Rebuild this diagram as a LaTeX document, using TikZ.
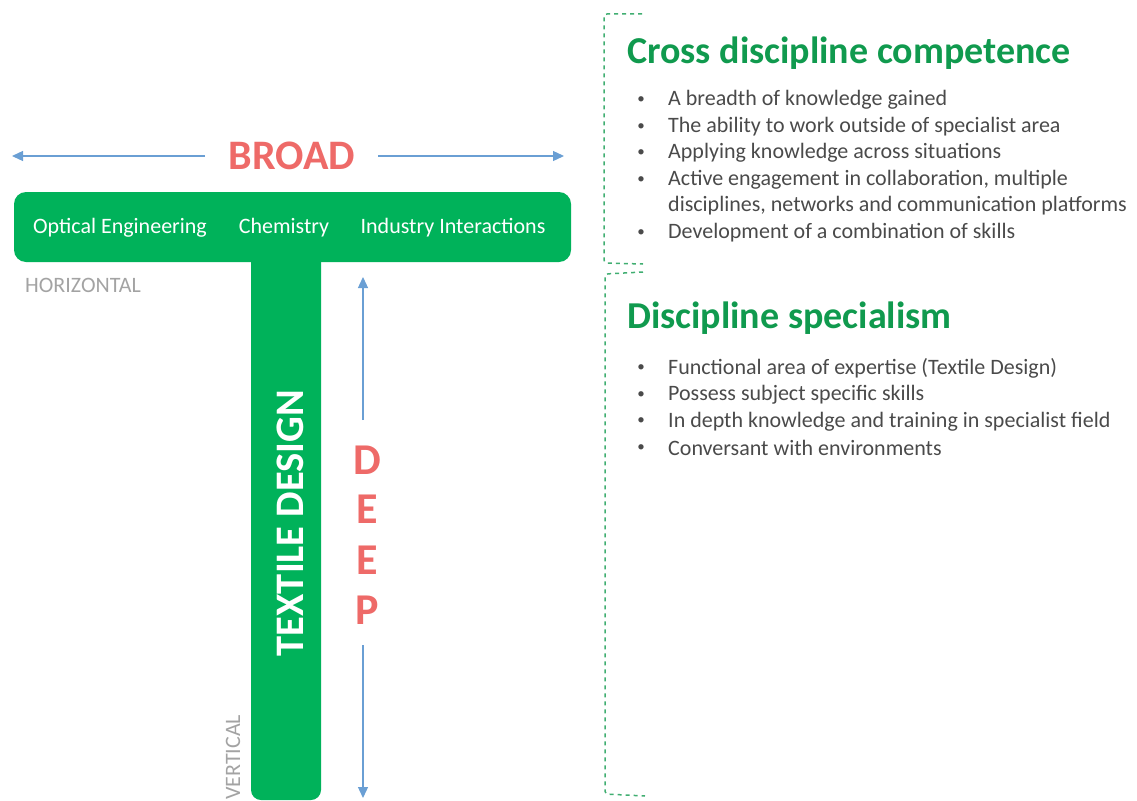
\documentclass[tikz,border=0pt]{standalone}
\usepackage{fontspec}
\setmainfont{Carlito}
\usepackage{tikz}
\usetikzlibrary{arrows.meta}
\definecolor{tgreen}{HTML}{00B25A}
\definecolor{hgreen}{HTML}{109A4E}
\definecolor{salmon}{HTML}{EE6A68}
\definecolor{arrowblue}{HTML}{6A9FD4}
\definecolor{bodygray}{HTML}{4A4A4A}
\definecolor{axisgray}{HTML}{A3A3A3}
\tikzset{
  tpart/.style={fill=tgreen, draw=none, rounded corners=12pt, inner sep=0pt},
  field/.style={text=white, font=\fontsize{22}{26}\selectfont},
  big/.style={text=salmon, font=\fontsize{42}{48}\selectfont\bfseries},
  deep/.style={text=salmon, font=\fontsize{44}{50}\selectfont\bfseries},
  axis/.style={text=axisgray, font=\fontsize{22}{26}\selectfont},
  span/.style={draw=arrowblue, line width=1.3pt, -{Triangle[length=11pt,width=10pt]}},
  brk/.style={draw=hgreen!80, line width=1.5pt, dash pattern=on 4pt off 4pt, rounded corners=3pt},
  head/.style={text=hgreen, anchor=west, inner sep=0pt, font=\fontsize{38}{44}\selectfont\bfseries},
  item/.style={text=bodygray, anchor=west, font=\fontsize{22}{26}\selectfont, inner sep=0pt},
  dotitem/.style={text=bodygray, font=\fontsize{15}{18}\selectfont, inner sep=0pt}
}

\begin{document}
\begin{tikzpicture}[x=1pt,y=-1pt]
\useasboundingbox (0,0) rectangle (1137,800);

% the T: bar and stem
\node[tpart, minimum width=70pt, minimum height=560pt, rounded corners=10pt] (stem) at (286,520) {};
\node[tpart, minimum width=557pt, minimum height=70pt] (bar) at (292.5,227) {};

% fields on the bar
\node[field] (optic) at (120,228) {Optical Engineering};
\node[field] (chem) at (284,228) {Chemistry};
\node[field] (indus) at (453,228) {Industry Interactions};
\node[text=white, rotate=90, font=\fontsize{40.5}{46}\selectfont\bfseries] (textile) at (290,523) {TEXTILE DESIGN};

\node[axis, anchor=west, inner sep=0pt] (horiz) at (25,285) {HORIZONTAL};
\node[axis, rotate=90, anchor=west, inner sep=0pt] (vert) at (233,800) {VERTICAL};

% broad
\node[big] (broad) at (292,156) {BROAD};
\coordinate (bleft) at (12,156);
\coordinate (bright) at (564,156);
\draw[span] (205,156) -- (bleft);
\draw[span] (378,156) -- (bright);

% deep
\node[deep] (d1) at (367,460) {D};
\node[deep] (e1) at (367,509) {E};
\node[deep] (e2) at (367,560) {E};
\node[deep] (p1) at (367,610) {P};
\coordinate (dtop) at (363,277);
\coordinate (dbot) at (363,798);
\draw[span] (363,420) -- (dtop);
\draw[span] (363,645) -- (dbot);

% brackets
\draw[brk] (642,14) -- (604,14) -- (604,263) -- (643,264);
\draw[brk] (643,272) -- (605,274) -- (605,794) -- (645,796);

% cross discipline competence
\node[head] (cross) at (627,53) {Cross discipline competence};
\foreach \t [count=\i] in {A breadth of knowledge gained,
  The ability to work outside of specialist area,
  Applying knowledge across situations,
  Active engagement in collaboration{,} multiple}
  {\node[dotitem] at (641,{100+26.6*(\i-1)}) {•};
   \node[item] at (668,{100+26.6*(\i-1)}) {\t};}
\node[item] at (668,206) {disciplines, networks and communication platforms};
\node[dotitem] at (641,233) {•};
\node[item] at (668,233) {Development of a combination of skills};

% discipline specialism
\node[head] (spec) at (627,318) {Discipline specialism};
\foreach \t [count=\i] in {Functional area of expertise (Textile Design),
  Possess subject specific skills,
  In depth knowledge and training in specialist field,
  Conversant with environments}
  {\node[dotitem] at (641,{368+26.7*(\i-1)}) {•};
   \node[item] at (668,{368+26.7*(\i-1)}) {\t};}
\end{tikzpicture}
\end{document}
